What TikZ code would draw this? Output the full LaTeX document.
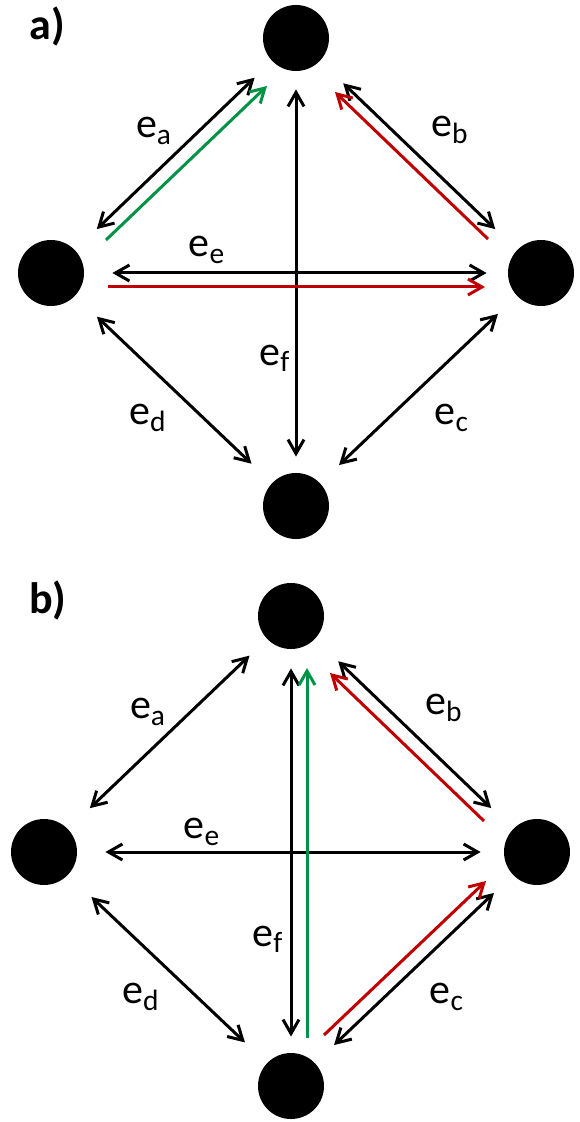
\documentclass[tikz,border=0pt]{standalone}
\usepackage{fontspec}
\setmainfont{Carlito}
\usetikzlibrary{arrows.meta}
\definecolor{pathgreen}{RGB}{0,146,69}
\definecolor{pathred}{RGB}{192,0,0}
\begin{document}
\begin{tikzpicture}[x=0.5pt, y=-0.5pt,
  vtx/.style={circle, fill=black, minimum size=33pt, inner sep=0pt},
  lbl/.style={font=\fontsize{21}{24}\selectfont},
  panel/.style={font=\fontsize{22}{26}\selectfont\bfseries},
  barb/.tip={Straight Barb[length=7pt, width=8pt]},
  bidir/.style={line width=1.5pt, barb-barb, shorten <=13pt, shorten >=13pt},
  walk/.style={line width=1.5pt, -barb}]
  \useasboundingbox (0,0) rectangle (579,1122);

  \node[panel] (pa) at (47,27) {a)};
  \node[vtx] (aT) at (296,38) {};
  \node[vtx] (aL) at (51,273) {};
  \node[vtx] (aR) at (541,273) {};
  \node[vtx] (aB) at (296,506) {};
  \draw[bidir, shorten <=15pt, shorten >=12pt] (aL) -- (aT);
  \draw[bidir, shorten <=16pt, shorten >=15pt] (aT) -- (aR);
  \draw[bidir] (aB) -- (aR);
  \draw[bidir, shorten <=15pt, shorten >=14pt] (aL) -- (aB);
  \draw[bidir, shorten <=14pt, shorten >=10.5pt] (aL) -- (aR);
  \draw[bidir, shorten <=9pt, shorten >=8pt] (aT) -- (aB);
  \coordinate (ga0) at (106,240);
  \coordinate (ga1) at (267,86);
  \coordinate (ra0) at (488,239);
  \coordinate (ra1) at (335,92);
  \coordinate (re0) at (108,287);
  \coordinate (re1) at (485,287);
  \draw[walk, pathgreen] (ga0) -- (ga1);
  \draw[walk, pathred] (ra0) -- (ra1);
  \draw[walk, pathred] (re0) -- (re1);
  \node[lbl] (aea) at (154,131) {e\textsubscript{a}};
  \node[lbl] (aeb) at (450,130) {e\textsubscript{b}};
  \node[lbl] (aec) at (452,418) {e\textsubscript{c}};
  \node[lbl] (aed) at (148,418) {e\textsubscript{d}};
  \node[lbl] (aee) at (207,250) {e\textsubscript{e}};
  \node[lbl] (aef) at (275,358) {e\textsubscript{f}};

  \node[panel] (pb) at (48,600) {b)};
  \node[vtx] (bT) at (291,616) {};
  \node[vtx] (bL) at (44,852) {};
  \node[vtx] (bR) at (537,852) {};
  \node[vtx] (bB) at (291,1086) {};
  \draw[bidir, shorten <=15pt, shorten >=12pt] (bL) -- (bT);
  \draw[bidir, shorten <=16pt, shorten >=15pt] (bT) -- (bR);
  \draw[bidir] (bB) -- (bR);
  \draw[bidir, shorten <=16pt, shorten >=15pt] (bL) -- (bB);
  \draw[bidir, shorten <=14pt, shorten >=11.5pt] (bL) -- (bR);
  \draw[bidir, shorten <=9.5pt, shorten >=8pt] (bT) -- (bB);
  \coordinate (gf0) at (307,1038);
  \coordinate (gf1) at (307,668);
  \coordinate (rb0) at (484,821);
  \coordinate (rb1) at (330,673);
  \coordinate (rc0) at (324,1035);
  \coordinate (rc1) at (486,881);
  \draw[walk, pathgreen] (gf0) -- (gf1);
  \draw[walk, pathred] (rb0) -- (rb1);
  \draw[walk, pathred] (rc0) -- (rc1);
  \node[lbl] (bea) at (148,712) {e\textsubscript{a}};
  \node[lbl] (beb) at (444,708) {e\textsubscript{b}};
  \node[lbl] (bec) at (447,997) {e\textsubscript{c}};
  \node[lbl] (bed) at (141,997) {e\textsubscript{d}};
  \node[lbl] (bee) at (202,832) {e\textsubscript{e}};
  \node[lbl] (bef) at (268,939) {e\textsubscript{f}};
\end{tikzpicture}
\end{document}
